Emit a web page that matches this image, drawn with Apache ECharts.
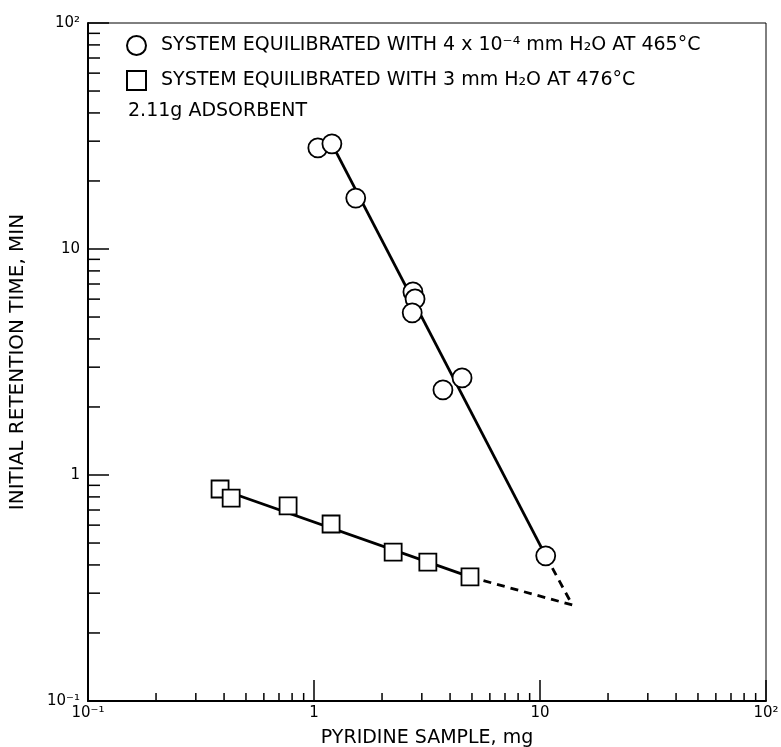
<!DOCTYPE html>
<html>
<head>
<meta charset="utf-8">
<script src="https://cdn.jsdelivr.net/npm/echarts@6/dist/echarts.min.js"></script>
<style>html,body{margin:0;padding:0;background:#fff}#c{width:781px;height:747px}</style>
</head>
<body>
<div id="c"></div>
<script>
// Circles: system equilibrated with 4e-4 mm H2O at 465 C
const circleX = [1.04, 1.20, 1.53, 2.74, 2.80, 2.72, 3.72, 4.52, 10.6];
const circleY = [28.0, 29.2, 16.8, 6.46, 6.01, 5.22, 2.38, 2.69, 0.439];
// Squares: system equilibrated with 3 mm H2O at 476 C
const squareX = [0.384, 0.430, 0.768, 1.19, 2.24, 3.19, 4.90];
const squareY = [0.867, 0.79, 0.73, 0.607, 0.456, 0.412, 0.354];
// Fitted lines (endpoints) and dashed extrapolations
const circleFitX = [1.20, 10.6];
const circleFitY = [29.2, 0.439];
const squareFitX = [0.384, 4.90];
const squareFitY = [0.867, 0.354];
const circleDashX = [10.6, 13.9];
const circleDashY = [0.439, 0.266];
const squareDashX = [4.90, 13.9];
const squareDashY = [0.354, 0.266];
// Axis ticks
const majorTicks = [0.1, 1, 10, 100];
const tickLabels = {0.1: '10⁻¹', 1: '1', 10: '10', 100: '10²'};
const minorTicks = [0.2,0.3,0.4,0.5,0.6,0.7,0.8,0.9,2,3,4,5,6,7,8,9,20,30,40,50,60,70,80,90];

const seriesNames = [
  'SYSTEM EQUILIBRATED WITH 4 x 10⁻⁴ mm H₂O AT 465°C',
  'SYSTEM EQUILIBRATED WITH 3 mm H₂O AT 476°C'
];
const noteText = '2.11g ADSORBENT';
const xName = 'PYRIDINE SAMPLE, mg';
const yName = 'INITIAL RETENTION TIME, MIN';

const zip = (a, b) => a.map((v, i) => [v, b[i]]);
const FONT = 'DejaVu Sans';

const chart = echarts.init(document.getElementById('c'), null, {renderer: 'canvas'});

function axisCommon(name, gap, nameSize) {
  return {
    type: 'log', logBase: 10, min: 0.1, max: 100,
    name: name, nameLocation: 'middle', nameGap: gap,
    nameTextStyle: {color: '#000', fontFamily: FONT, fontSize: nameSize},
    axisLine: {show: true, lineStyle: {color: '#000', width: 2}},
    axisTick: {show: true, inside: true, length: 21, lineStyle: {color: '#000', width: 1.5}},
    minorTick: {show: false},
    splitLine: {show: false},
    axisLabel: {
      color: '#000', fontFamily: FONT, fontSize: 15,
      formatter: v => tickLabels[v] !== undefined ? tickLabels[v] : ''
    }
  };
}

const xAxis = axisCommon(xName, 28, 19);
xAxis.axisLabel.margin = 5;
const yAxis = axisCommon(yName, 60, 20);
yAxis.nameRotate = 90;
yAxis.axisLabel.margin = 8;

chart.setOption({
  animation: false,
  backgroundColor: '#fff',
  grid: {left: 88, right: 15, top: 23, bottom: 46, containLabel: false, outerBoundsMode: 'none',
         show: true, borderColor: '#000', borderWidth: 1},
  xAxis: xAxis,
  yAxis: yAxis,
  legend: {
    orient: 'vertical', left: 126, top: 35, itemGap: 14, padding: 0,
    itemWidth: 19, itemHeight: 19,
    data: seriesNames,
    textStyle: {color: '#000', fontFamily: FONT, fontSize: 19, padding: [0, 0, 0, 10]}
  },
  graphic: [{
    type: 'text', left: 128, top: 102,
    style: {text: noteText, fill: '#000', font: '19px ' + FONT}
  }],
  series: [
    {type: 'line', data: zip(circleFitX, circleFitY), symbol: 'none', lineStyle: {color: '#000', width: 2.8}, z: 2},
    {type: 'line', data: zip(squareFitX, squareFitY), symbol: 'none', lineStyle: {color: '#000', width: 2.8}, z: 2},
    {type: 'line', data: zip(circleDashX, circleDashY), symbol: 'none', lineStyle: {color: '#000', width: 2.8, type: [8, 6]}, z: 2},
    {type: 'line', data: zip(squareDashX, squareDashY), symbol: 'none', lineStyle: {color: '#000', width: 2.8, type: [8, 6]}, z: 2},
    {
      name: seriesNames[0], type: 'scatter', data: zip(circleX, circleY),
      symbol: 'circle', symbolSize: 19,
      itemStyle: {color: '#fff', borderColor: '#000', borderWidth: 1.8, opacity: 1}, z: 3
    },
    {
      name: seriesNames[1], type: 'scatter', data: zip(squareX, squareY),
      symbol: 'rect', symbolSize: 17,
      itemStyle: {color: '#fff', borderColor: '#000', borderWidth: 1.8, opacity: 1}, z: 3
    },
    {
      type: 'custom', silent: true, z: 4,
      data: minorTicks.map(v => [v, 0.1]),
      renderItem: (params, api) => {
        const p = api.coord([api.value(0), api.value(1)]);
        return {type: 'line', shape: {x1: p[0], y1: p[1], x2: p[0], y2: p[1] - 8},
          style: {stroke: '#000', lineWidth: 1.5}};
      }
    },
    {
      type: 'custom', silent: true, z: 4,
      data: minorTicks.map(v => [0.1, v]),
      renderItem: (params, api) => {
        const p = api.coord([api.value(0), api.value(1)]);
        return {type: 'line', shape: {x1: p[0], y1: p[1], x2: p[0] + 12, y2: p[1]},
          style: {stroke: '#000', lineWidth: 1.5}};
      }
    }
  ]
});
</script>
</body>
</html>
